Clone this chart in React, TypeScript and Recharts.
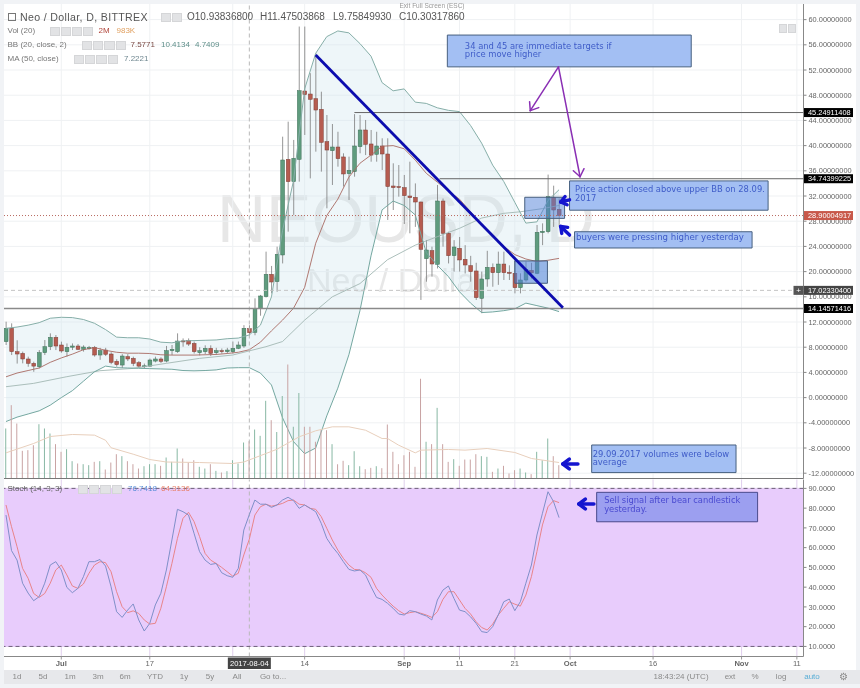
import React from "react";
import { ComposedChart, Bar, Line, Area, XAxis, YAxis, CartesianGrid, ReferenceLine, ReferenceArea } from "recharts";

// ---- candles: first entry is 10 days before 1 Jul 2017 (day 0 = 1 Jul)
const FIRST_DAY = -10;
const opens = [
  8.88, 11.0, 7.29, 7.02, 6.13, 5.44, 4.9, 7.13, 8.08, 9.56,
  8.35, 7.29, 8.0, 8.19, 7.66, 7.77, 7.98, 6.76, 7.55, 6.92,
  5.76, 5.17, 6.5, 6.23, 5.54, 4.95, 5.0, 5.8, 6.13, 5.8,
  7.45, 7.29, 9.0, 9.03, 8.6, 7.13, 7.29, 7.82, 7.13, 7.45,
  7.29, 7.29, 7.82, 8.19, 10.94, 10.35, 14.17, 16.03, 19.57, 18.41,
  22.64, 37.82, 34.28, 37.82, 48.67, 48.19, 47.45, 45.76, 40.63, 39.2,
  39.78, 38.2, 35.55, 35.87, 39.83, 42.48, 40.26, 38.62, 39.94, 38.67,
  33.59, 33.5, 33.33, 32.0, 31.79, 31.05, 22.06, 23.33, 21.16, 31.21,
  26.08, 22.53, 23.7, 21.95, 20.95, 20.1, 15.75, 18.83, 20.68, 19.83,
  21.2, 19.88, 19.73, 17.45, 18.67, 20.2, 19.73, 26.2, 26.34, 31.74,
  29.89,
];
const highs = [
  12.05, 11.79, 9.1, 7.3, 6.5, 5.7, 7.55, 9.14, 10.2, 9.93,
  8.88, 8.6, 8.6, 8.5, 8.3, 8.2, 8.2, 7.9, 7.9, 7.2,
  6.1, 6.9, 6.9, 6.5, 5.8, 5.4, 6.2, 6.5, 6.4, 8.2,
  8.35, 10.2, 9.4, 9.4, 8.9, 8.0, 8.3, 8.3, 7.9, 7.8,
  7.9, 8.9, 8.9, 11.5, 11.48, 15.76, 16.3, 23.17, 20.9, 23.96,
  41.42, 43.8, 40.9, 58.9, 58.9, 51.5, 54.65, 48.56, 44.86, 43.43,
  42.2, 38.78, 38.25, 45.0, 44.86, 44.07, 42.48, 42.2, 41.16, 41.16,
  37.19, 36.92, 35.34, 37.45, 34.0, 31.1, 25.02, 23.96, 33.75, 31.6,
  26.34, 25.0, 25.5, 24.2, 22.5, 21.4, 20.0, 23.3, 21.3, 23.17,
  23.17, 21.0, 22.1, 19.73, 21.6, 21.4, 27.4, 27.66, 35.4, 33.64,
  31.6,
];
const lows = [
  8.35, 6.76, 5.4, 5.44, 4.9, 4.1, 4.64, 6.76, 7.55, 7.55,
  7.13, 6.5, 7.55, 7.55, 7.3, 7.6, 6.5, 6.0, 6.6, 5.3,
  4.9, 4.7, 5.8, 5.0, 4.7, 4.64, 4.9, 5.6, 5.5, 5.6,
  6.76, 7.1, 8.08, 8.2, 7.0, 6.7, 6.9, 6.6, 6.8, 7.0,
  7.0, 7.0, 7.7, 7.9, 9.76, 9.9, 13.0, 15.9, 16.55, 16.8,
  21.3, 26.34, 29.0, 34.28, 41.69, 34.8, 39.04, 35.87, 30.05, 33.75,
  36.66, 33.5, 31.37, 35.07, 38.78, 38.5, 37.45, 37.45, 36.13, 28.2,
  29.78, 31.9, 27.56, 26.08, 27.1, 15.5, 18.4, 19.2, 20.5, 23.96,
  21.3, 20.0, 20.0, 19.7, 18.4, 15.5, 13.4, 17.6, 17.6, 17.9,
  18.67, 18.67, 16.55, 16.55, 18.4, 18.9, 19.6, 24.2, 26.08, 27.1,
  27.1,
];
const closes = [
  11.0, 7.29, 6.92, 6.13, 5.44, 5.0, 7.13, 8.08, 9.56, 8.19,
  7.4, 7.98, 8.19, 7.66, 8.03, 7.93, 6.76, 7.45, 6.87, 5.6,
  5.23, 6.6, 6.13, 5.44, 5.0, 5.05, 5.97, 6.13, 5.76, 7.45,
  7.66, 8.98, 8.9, 8.5, 7.29, 7.45, 7.82, 7.02, 7.45, 7.29,
  7.55, 7.82, 8.35, 11.0, 10.3, 14.17, 16.13, 19.57, 18.35, 22.74,
  37.72, 34.28, 37.98, 48.72, 48.09, 47.35, 45.65, 40.52, 39.3, 39.78,
  37.93, 35.5, 36.08, 39.94, 42.48, 40.2, 38.5, 39.94, 38.67, 33.5,
  33.33, 33.38, 32.06, 31.74, 31.05, 23.54, 23.43, 21.21, 31.21, 26.08,
  22.53, 23.91, 21.85, 21.05, 20.0, 15.87, 18.83, 20.68, 19.83, 21.2,
  19.83, 19.73, 17.45, 18.67, 20.36, 19.8, 26.24, 26.4, 31.9, 29.78,
  28.9,
];
const volumes = [
  6.67, 9.78, 7.33, 3.69, 3.78, 4.44, 7.24, 6.67, 6.0, 4.58,
  3.56, 3.91, 2.31, 2.0, 1.91, 1.78, 2.22, 2.31, 1.2, 2.13,
  3.24, 2.98, 2.31, 1.91, 1.33, 1.64, 1.91, 1.91, 1.69, 2.8,
  2.22, 4.0, 2.67, 2.13, 2.44, 1.56, 1.33, 1.91, 1.02, 0.8,
  0.98, 2.44, 2.0, 4.8, 4.98, 6.53, 5.69, 10.36, 7.78, 6.2,
  11.0, 15.2, 6.9, 11.4, 6.9, 6.9, 4.9, 6.44, 6.44, 4.58,
  1.9, 2.36, 1.78, 3.64, 1.64, 1.24, 1.42, 1.64, 1.38, 7.2,
  3.56, 1.91, 3.1, 3.56, 1.56, 13.3, 4.9, 4.58, 9.42, 4.58,
  2.22, 2.58, 1.69, 2.53, 2.53, 3.24, 2.98, 2.89, 0.89, 1.33,
  1.69, 0.67, 1.11, 1.33, 0.8, 0.58, 3.56, 2.44, 5.33, 2.98,
  1.78,
];
const stochK = [
  76.5, 58.5, 53.7, 42, 37, 33.15, 35.2, 42, 51.2, 52.9,
  48.7, 39.9, 37.2, 39.4, 45.3, 52.9, 52.9, 54, 50.7, 40.2,
  27.6, 24.7, 28.4, 31.5, 23.4, 17.8, 21.7, 31, 36.9, 48.7,
  63.9, 79.4, 78.2, 76.5, 67.3, 58, 53.7, 51.5, 52, 47.3,
  45.8, 45, 49.5, 68.9, 76.74, 84.1, 82, 82, 80.4, 81.6,
  84.1, 85.5, 83.8, 79.9, 81.6, 79.9, 78.2, 72.3, 64.7, 60.5,
  57.1, 52.9, 49, 48.2, 48.7, 46.2, 40.2, 34.8, 33.8, 31.8,
  29.3, 26.4, 25.9, 28.1, 27.6, 26.4, 25.4, 23.4, 33.5, 38.5,
  40.6, 34.3, 28.4, 27.6, 25, 21.7, 17.5, 17, 20, 25.9,
  32.6, 34, 28.1, 32.6, 42, 51.2, 66.4, 77.4, 88.3, 83.3,
  75.2,
];
const stochD = [
  81.6, 70.6, 60.5, 49.5, 44.5, 36.8, 34.8, 36.8, 42, 48.7,
  51.2, 46.2, 40.6, 39.4, 41.6, 47, 51.2, 52.9, 52.4, 47.8,
  37.7, 30.1, 27.1, 28, 26.7, 23.4, 21.3, 21.7, 29.3, 40.2,
  52, 64.7, 74.8, 77.9, 73.2, 65.6, 57.1, 53.7, 52, 50,
  47.8, 45.6, 47, 56.3, 64.31, 76.5, 80.7, 82, 81, 81.6,
  82.4, 83.8, 84.1, 82, 81.6, 79.9, 79.4, 75.7, 69.8, 63.9,
  58.8, 54.6, 51.2, 49, 48.7, 47.3, 45, 39.4, 36, 33.1,
  30.4, 28.1, 26.4, 27.1, 27.6, 26.8, 25.9, 24.7, 27.6, 33.8,
  37.7, 37.7, 33.5, 29.3, 26.4, 22.5, 19.6, 18.3, 21.3, 25.9,
  29.3, 32.6, 31.4, 30.4, 36, 45.3, 58, 71.5, 80.7, 83.8,
  82.8,
];

// ---- Bollinger band, read every second day
const bbDays = [-10,-8,-6,-4,-2,0,2,4,6,8,10,12,14,16,18,20,22,24,26,28,30,32,34,36,38,40,42,44,46,48,50,52,54,56,58,60,62,64,66,68,70,72,74,76,78,80,82,84,86,88,90];
const bbUpper = [11,11.2,11.5,11.9,12.6,12.75,12.7,12.4,11.8,10.8,9.6,9.5,9.5,9.3,8.8,8.7,9,9.05,9.1,9.15,9.35,9.45,9.95,11.5,16,26.5,34.5,49,54.65,57.3,58.2,57.9,56.2,54.2,50,48.7,49,46.9,46.7,46,45.6,45.4,43.2,40.4,36.9,34.3,31,27.7,27.9,31.3,33];
const bbBasis = [3.3,3.9,4.3,4.7,5.6,6.3,6.9,7.6,7.95,7.5,7.2,7.05,7.05,7,6.8,6.75,6.75,6.75,6.8,6.85,7,7.2,7.6,8.8,10.6,12.3,14.2,17.5,24.5,28.9,31.5,35,37.2,38.5,39.9,40,39.5,37.7,35.6,34.2,32.8,31.5,29.5,27.5,25.6,24,22.7,22,21.6,21.8,22.1];
const bbLower = [-3.8,-3.1,-2.6,-2.1,-1.2,0,1.1,2.6,4.1,5,4.75,4.7,4.65,4.6,4.55,4.5,4.3,4.25,4.3,4.4,4.7,4.75,4.75,3.9,2,-3.2,-7,-8.9,-8,-2.9,1.5,6.8,13.8,22.5,29.8,31.2,30.5,29,23,21,19.2,16.8,15,13.5,13.6,13.8,14.1,15,14.6,14.2,13.65];

// ---- moving averages, read at the days where the curve bends
const ma50Days = [-10,-5,1,7,13,19,25,31,37,40,44,49,54,59,64,68,72,76,80,83,87,90];
const ma50Values = [1.73,2.26,3.32,4.27,4.64,5.44,6.23,6.76,8.08,8.9,12.3,16,18.1,21.9,24.2,25.55,26.87,28.5,29.25,29.5,30,30.5];
const volMaDays = [-10,-5,-2,2,6,8,9,13,16,19,25,31,33,37,39,43,46,49,52,55,58,59,61,64,65,70,73,77,82,85,90];
const volMaValues = [3.42,4.67,5.6,5.87,5.78,5.1,4.1,3.24,2.53,2.2,2.13,2,2.2,3.33,3.9,5.56,6.36,6.89,6.89,6.44,5.33,5.33,4.44,3.42,3.78,3.87,3.78,4,3.47,2.67,2.13];

// ---- axes
const priceTicks = [-12,-8,-4,0,4,8,12,16,20,24,28,32,36,40,44,48,52,56,60];
const stochTicks = [10,20,30,40,50,60,70,80,90];
const dayTicks = [0,16,34,44,62,72,82,92,107,123,133];
const dayTickNames = ["Jul","17","2017-08-04","14","Sep","11","21","Oct","16","Nov","11"];
const gridDays = [0,16,31,44,62,72,82,92,107,123,133];
const boldTicks = ["Jul","Sep","Oct","Nov"];

// ---- horizontal levels
const levelHigh = 45.24911408;
const levelMid = 34.74399225;
const levelLow = 14.14571416;
const lastPrice = 28.90004917;
const crossPrice = 17.023304;
const crossDay = 34;

// ---- annotation texts
const noteTargets = ["34 and 45 are immediate targets if", "price move higher"];
const notePrice = ["Price action closed above upper BB on 28.09.", "2017"];
const noteBuyers = ["buyers were pressing higher yesterday"];
const noteVolume = ["29.09.2017 volumes were below", "average"];
const noteSell = ["Sell signal after bear candlestick", "yesterday."];

const toolbarLeft: [string, number][] = [["1d",17],["5d",43],["1m",70],["3m",98],["6m",125],["YTD",155],["1y",184],["5y",210],["All",237],["Go to...",273]];
const toolbarRight: [string, number][] = [["18:43:24 (UTC)",681],["ext",730],["%",755],["log",781]];

// ---- geometry of the panels
const W = 860, H = 688;
const DAY_DOMAIN: [number, number] = [-10.36, 134.2];
const PRICE_DOMAIN: [number, number] = [-12.84, 62.48];
const VOL_DOMAIN: [number, number] = [0, 63.27];
const STOCH_DOMAIN: [number, number] = [4.9, 94.5];
const PX_DAY = 5.53, PX_PRICE = 6.3, PX_STOCH = 1.975;
const mainMargin = { top: 4, left: 4, right: 0, bottom: 209.5 };
const mainOverlay = { ...mainMargin, right: 56.5 };
const stochMargin = { top: 479.5, left: 4, right: 0, bottom: 17.5 };
const stochOverlay = { top: 479.5, left: 4, right: 56.5, bottom: 31.5 };

const SANS = "'Liberation Sans', Arial, sans-serif";
const NOTE = "'DejaVu Sans', sans-serif";
const UP = "#5f9c7e", UP_EDGE = "#3d6e57", DOWN = "#b65c50", DOWN_EDGE = "#7d3f37";

const table = opens.map((o, i) => {
  const day = FIRST_DAY + i;
  const row: any = { day, open: o, high: highs[i], low: lows[i], close: closes[i], range: [lows[i], highs[i]], vol: volumes[i], k: stochK[i], d: stochD[i] };
  const b = bbDays.indexOf(day);
  if (b >= 0) { row.upper = bbUpper[b]; row.basis = bbBasis[b]; row.lower = bbLower[b]; row.band = [bbLower[b], bbUpper[b]]; }
  const m = ma50Days.indexOf(day);
  if (m >= 0) row.ma50 = ma50Values[m];
  const v = volMaDays.indexOf(day);
  if (v >= 0) row.volMa = volMaValues[v];
  return row;
});

const Candle = (p: any) => {
  const { x, y, width, height, payload } = p;
  if (!payload) return null;
  const up = payload.close >= payload.open;
  const h = Math.abs(height);
  const top = Math.min(y, y + height);
  const unit = h / (payload.high - payload.low);
  const yOf = (v: number) => top + (payload.high - v) * unit;
  const cx = x + width / 2;
  const bodyTop = yOf(Math.max(payload.open, payload.close));
  const bodyH = Math.max(1, Math.abs(payload.open - payload.close) * unit);
  return (
    <g>
      <line x1={cx} x2={cx} y1={top} y2={top + h} stroke="#7b7b7b" strokeWidth={0.8} />
      <rect x={x} y={bodyTop} width={width} height={bodyH} fill={up ? UP : DOWN} stroke={up ? UP_EDGE : DOWN_EDGE} strokeWidth={0.5} />
    </g>
  );
};

const VolumeBar = (p: any) => {
  const { x, y, width, height, payload } = p;
  if (!payload) return null;
  const up = payload.close >= payload.open;
  return <rect x={x} y={y} width={width} height={height} fill={up ? "#88b8a4" : "#c9a3a3"} />;
};

const arrow = (tail: [number, number], tip: [number, number], pxY: number, head: number) => {
  const dx = (tip[0] - tail[0]) * PX_DAY, dy = -(tip[1] - tail[1]) * pxY;
  const a = Math.atan2(dy, dx);
  const wing = (s: number) => ({
    x: tip[0] + (head * Math.cos(a + Math.PI + s)) / PX_DAY,
    y: tip[1] - (head * Math.sin(a + Math.PI + s)) / pxY,
  });
  const t = { x: tip[0], y: tip[1] };
  return [
    [{ x: tail[0], y: tail[1] }, t],
    [wing(0.65), t],
    [wing(-0.65), t],
  ];
};

const renderArrow = (key: string, segs: any[], stroke: string, width: number) =>
  segs.map((s, i) => <ReferenceLine key={key + i} segment={s} stroke={stroke} strokeWidth={width} strokeLinecap="round" ifOverflow="visible" />);

const noteLabel = (lines: string[], dx: number, firstY: number, color: string, size: number) => (props: any) => {
  const vb = props.viewBox || {};
  return (
    <text x={vb.x + dx} y={vb.y + firstY} fontFamily={NOTE} fontSize={size} fill={color}>
      {lines.map((l, i) => <tspan key={i} x={vb.x + dx} dy={i === 0 ? 0 : 8.2}>{l}</tspan>)}
    </text>
  );
};

const priceTag = (text: string, fill: string, plus?: boolean) => (props: any) => {
  const vb = props.viewBox || {};
  const right = vb.x + vb.width;
  return (
    <g>
      {plus && <rect x={right - 10} y={vb.y - 4.5} width={10} height={9} fill="#555" />}
      {plus && <text x={right - 5} y={vb.y + 3} textAnchor="middle" fontFamily={SANS} fontSize={8} fill="#fff">+</text>}
      <rect x={right + 0.5} y={vb.y - 4.5} width={49} height={9} fill={fill} />
      <text x={right + 4.5} y={vb.y + 2.6} fontFamily={SANS} fontSize={7.4} fill="#fff">{text}</text>
    </g>
  );
};

const DayTick = (p: any) => {
  const { x, y, index } = p;
  const name = dayTickNames[index];
  if (name === "2017-08-04") {
    return (
      <g>
        <rect x={x - 21.5} y={y + 1} width={43} height={11.5} fill="#444" />
        <text x={x} y={y + 9.6} textAnchor="middle" fontFamily={SANS} fontSize={7.6} fill="#fff">{name}</text>
      </g>
    );
  }
  return (
    <g>
      <line x1={x} x2={x} y1={y} y2={y + 3} stroke="#999" />
      <text x={x} y={y + 9.5} textAnchor="middle" fontFamily={SANS} fontSize={7.6} fontWeight={boldTicks.includes(name) ? 700 : 400} fill="#666">{name}</text>
    </g>
  );
};

const Txt = ({ x, y, size = 8, color = "#777", bold, anchor, children, spacing }: any) => (
  <div style={{ position: "absolute", left: x, top: y, transform: `translate(${anchor === "middle" ? "-50%" : "0"}, -50%)`, fontFamily: SANS, fontSize: size, color, fontWeight: bold ? 700 : 400, whiteSpace: "nowrap", lineHeight: 1, letterSpacing: spacing }}>
    {children}
  </div>
);

const Icons = ({ x, y, n, w = 10.2, h = 8.5 }: any) => (
  <>
    {Array.from({ length: n }).map((_, i) => (
      <div key={i} style={{ position: "absolute", left: x + i * (w + 1), top: y, width: w, height: h, background: "#e2e3e5", boxSizing: "border-box", border: "1px solid #d5d6d8" }} />
    ))}
  </>
);

const PriceChart = () => (
  <ComposedChart width={W} height={H} data={table} margin={mainMargin} style={{ position: "absolute", left: 0, top: 0 }}>
    <CartesianGrid horizontalValues={priceTicks} verticalValues={gridDays} stroke="#eff1f3" strokeWidth={1} />
    <XAxis dataKey="day" type="number" hide domain={DAY_DOMAIN} allowDataOverflow />
    <YAxis orientation="right" width={56.5} domain={PRICE_DOMAIN} allowDataOverflow ticks={priceTicks} interval={0}
      tickFormatter={(v: number) => v.toFixed(8)} tick={{ fontFamily: SANS, fontSize: 7.4, fill: "#666" }}
      tickSize={3} tickLine={{ stroke: "#888" }} axisLine={{ stroke: "#888" }} />
    <Area dataKey="band" connectNulls stroke="none" fill="#cfe6ee" fillOpacity={0.35} isAnimationActive={false} dot={false} activeDot={false} />
    <Bar dataKey="range" barSize={3.8} shape={Candle} isAnimationActive={false} />
    <Line dataKey="ma50" connectNulls stroke="#a3b8b3" strokeWidth={0.9} dot={false} isAnimationActive={false} />
    <Line dataKey="basis" connectNulls stroke="#a86a62" strokeWidth={0.9} dot={false} isAnimationActive={false} />
    <Line dataKey="upper" connectNulls stroke="#86aea8" strokeWidth={1} dot={false} isAnimationActive={false} />
    <Line dataKey="lower" connectNulls stroke="#74a7a0" strokeWidth={1} dot={false} isAnimationActive={false} />
  </ComposedChart>
);

const VolumeChart = () => (
  <ComposedChart width={W} height={H} data={table} margin={mainOverlay} style={{ position: "absolute", left: 0, top: 0 }}>
    <XAxis dataKey="day" type="number" hide domain={DAY_DOMAIN} allowDataOverflow />
    <YAxis hide domain={VOL_DOMAIN} allowDataOverflow />
    <Bar dataKey="vol" barSize={1} shape={VolumeBar} isAnimationActive={false} />
    <Line dataKey="volMa" connectNulls stroke="#e8cfbc" strokeWidth={1} dot={false} isAnimationActive={false} />
  </ComposedChart>
);

const boxBlue = { fill: "#a3bff3", stroke: "#47607f", strokeWidth: 1, fillOpacity: 1 };

const MainOverlay = () => (
  <ComposedChart width={W} height={H} data={[{ day: 0 }]} margin={mainOverlay} style={{ position: "absolute", left: 0, top: 0 }}>
    <XAxis dataKey="day" type="number" hide domain={DAY_DOMAIN} allowDataOverflow />
    <YAxis hide domain={PRICE_DOMAIN} allowDataOverflow />
    <ReferenceLine x={crossDay} stroke="#b8b8b8" strokeDasharray="4 3" ifOverflow="visible" />
    <ReferenceLine y={crossPrice} stroke="#c4c4c4" strokeDasharray="4 3" label={priceTag("17.02330400", "#444", true)} />
    <ReferenceLine y={lastPrice} stroke="#b86a60" strokeDasharray="1 2" label={priceTag("28.90004917", "#c8584a")} />
    <ReferenceLine segment={[{ x: 53, y: levelHigh }, { x: DAY_DOMAIN[1], y: levelHigh }]} stroke="#666" strokeWidth={1} />
    <ReferenceLine segment={[{ x: 68.4, y: levelMid }, { x: DAY_DOMAIN[1], y: levelMid }]} stroke="#666" strokeWidth={1} />
    <ReferenceLine y={levelLow} stroke="#8a8a8a" strokeWidth={1.5} label={priceTag("14.14571416", "#000")} />
    <ReferenceLine y={levelHigh} stroke="none" label={priceTag("45.24911408", "#000")} />
    <ReferenceLine y={levelMid} stroke="none" label={priceTag("34.74399225", "#000")} />
    <ReferenceLine y={PRICE_DOMAIN[0]} stroke="#777" strokeWidth={1} />
    <ReferenceArea x1={83.8} x2={91} y1={28.45} y2={31.8} fill="#4f80d8" fillOpacity={0.5} stroke="#47607f" strokeWidth={1} />
    <ReferenceArea x1={82} x2={87.9} y1={18.15} y2={21.7} fill="#4f80d8" fillOpacity={0.55} stroke="#47607f" strokeWidth={1} />
    <ReferenceLine segment={[{ x: 46, y: 54.4 }, { x: 90.7, y: 14.27 }]} stroke="#0c0cae" strokeWidth={2.8} />
    <ReferenceArea x1={69.8} x2={113.9} y1={52.5} y2={57.55} {...boxBlue} label={noteLabel(noteTargets, 17.5, 14, "#3f5cc8", 8.4)} />
    <ReferenceArea x1={91.9} x2={127.8} y1={29.75} y2={34.4} {...boxBlue} label={noteLabel(notePrice, 5.5, 11.5, "#3f5cc8", 8.35)} />
    <ReferenceArea x1={92.8} x2={124.9} y1={23.75} y2={26.33} {...boxBlue} label={noteLabel(noteBuyers, 1.5, 8, "#3f5cc8", 8.6)} />
    <ReferenceArea x1={95.9} x2={122} y1={-11.9} y2={-7.52} {...boxBlue} label={noteLabel(noteVolume, 1, 12, "#3f5cc8", 8.4)} />
    {renderArrow("pa", arrow([89.9, 52.5], [84.8, 45.55], PX_PRICE, 9), "#8a2fb4", 1.5)}
    {renderArrow("pb", arrow([89.9, 52.5], [93.8, 35.06], PX_PRICE, 9), "#8a2fb4", 1.5)}
    {renderArrow("a1", arrow([91.9, 31.4], [90.3, 31.05], PX_PRICE, 7), "#1515cf", 3.4)}
    {renderArrow("a2", arrow([91.9, 25.8], [90.3, 27.16], PX_PRICE, 7), "#1515cf", 3.4)}
    {renderArrow("a3", arrow([93.4, -10.54], [90.7, -10.54], PX_PRICE, 8), "#1515cf", 3.6)}
  </ComposedChart>
);

const StochChart = () => (
  <ComposedChart width={W} height={H} data={table} margin={stochMargin} style={{ position: "absolute", left: 0, top: 0 }}>
    <ReferenceArea y1={10} y2={90} fill="#e8ccfc" fillOpacity={1} stroke="none" />
    <CartesianGrid horizontalValues={stochTicks} verticalValues={gridDays} stroke="#d8c3e8" strokeWidth={0.8} />
    <XAxis dataKey="day" type="number" domain={DAY_DOMAIN} allowDataOverflow height={14} ticks={dayTicks} interval={0}
      tick={DayTick} tickLine={false} tickSize={0} tickMargin={0} axisLine={{ stroke: "#888" }} />
    <YAxis orientation="right" width={56.5} domain={STOCH_DOMAIN} allowDataOverflow ticks={stochTicks} interval={0}
      tickFormatter={(v: number) => v.toFixed(4)} tick={{ fontFamily: SANS, fontSize: 7.4, fill: "#666" }}
      tickSize={3} tickLine={{ stroke: "#888" }} axisLine={{ stroke: "#888" }} />
    <ReferenceLine x={crossDay} stroke="#b8b8b8" strokeDasharray="4 3" />
    <ReferenceLine y={90} stroke="#6d5f78" strokeDasharray="4 3" />
    <ReferenceLine y={10} stroke="#6d5f78" strokeDasharray="4 3" />
    <Line dataKey="d" stroke="#e8848a" strokeWidth={1} dot={false} isAnimationActive={false} />
    <Line dataKey="k" stroke="#7f8fc8" strokeWidth={1} dot={false} isAnimationActive={false} />
  </ComposedChart>
);

const StochOverlay = () => (
  <ComposedChart width={W} height={H} data={[{ day: 0 }]} margin={stochOverlay} style={{ position: "absolute", left: 0, top: 0 }}>
    <XAxis dataKey="day" type="number" hide domain={DAY_DOMAIN} allowDataOverflow />
    <YAxis hide domain={STOCH_DOMAIN} allowDataOverflow />
    <ReferenceArea x1={96.8} x2={125.9} y1={73.1} y2={88} fill="#9c9ff0" fillOpacity={1} stroke="#4a4a8c" strokeWidth={1} label={noteLabel(noteSell, 7.5, 11, "#4a4ad0", 8.35)} />
    {renderArrow("a4", arrow([96.3, 82.1], [93.6, 82.1], PX_STOCH, 8), "#1515cf", 3.6)}
  </ComposedChart>
);

const Chrome = () => (
  <>
    <div style={{ position: "absolute", left: 4, top: 670, width: 856, height: 14, background: "#e7e8eb" }} />
    {toolbarLeft.map(([t, x]) => <Txt key={t} x={x} y={677} color="#8a8a8a" anchor="middle">{t}</Txt>)}
    {toolbarRight.map(([t, x]) => <Txt key={t} x={x} y={677} color="#8a8a8a" anchor="middle">{t}</Txt>)}
    <Txt x={812} y={677} color="#5aaed6" anchor="middle">auto</Txt>
    <Txt x={843} y={677} color="#888" size={10} anchor="middle">⚙</Txt>
    <Txt x={432} y={6} size={6.5} color="#999" anchor="middle">Exit Full Screen (ESC)</Txt>

    <div style={{ position: "absolute", left: 8, top: 13, width: 8, height: 8, boxSizing: "border-box", border: "1px solid #777" }} />
    <Txt x={20} y={17} size={10.6} color="#555" spacing={0.35}>Neo / Dollar, D, BITTREX</Txt>
    <Icons x={161} y={13} n={2} h={9} />
    <Txt x={187} y={17} size={10} color="#555">O10.93836800</Txt>
    <Txt x={260} y={17} size={10} color="#555">H11.47503868</Txt>
    <Txt x={333} y={17} size={10} color="#555">L9.75849930</Txt>
    <Txt x={399} y={17} size={10} color="#555">C10.30317860</Txt>

    <Txt x={7.5} y={31} color="#777">Vol (20)</Txt>
    <Icons x={49.5} y={27} n={4} />
    <Txt x={98.5} y={31} color="#b0453a">2M</Txt>
    <Txt x={116.5} y={31} color="#e0a060">983K</Txt>

    <Txt x={7.5} y={45} color="#777">BB (20, close, 2)</Txt>
    <Icons x={82} y={41} n={4} />
    <Txt x={130.5} y={45} color="#7a4a45">7.5771</Txt>
    <Txt x={161} y={45} color="#5f8f8a">10.4134</Txt>
    <Txt x={195} y={45} color="#5f8f8a">4.7409</Txt>

    <Txt x={7.5} y={59} color="#777">MA (50, close)</Txt>
    <Icons x={74} y={55} n={4} />
    <Txt x={124} y={59} color="#6f8790">7.2221</Txt>

    <Txt x={7.5} y={489} color="#666">Stoch (14, 3, 3)</Txt>
    <Icons x={78} y={485} n={4} />
    <Txt x={128} y={489} color="#5a8fd8">76.7418</Txt>
    <Txt x={161} y={489} color="#e8806a">64.3136</Txt>

    <Icons x={779} y={24} n={2} w={8} />
  </>
);

export default function App() {
  return (
    <div style={{ position: "absolute", left: 0, top: 0, width: W, height: H, overflow: "hidden", background: "#f1f3f6", filter: "blur(0.3px)" }}>
      <div style={{ position: "absolute", left: 4, top: 4, width: 852, height: 666, background: "#fff" }} />
      <div style={{ position: "absolute", left: 217, top: 218, transform: "translateY(-50%)", fontFamily: SANS, fontSize: 68, color: "#e7e7e7", whiteSpace: "nowrap", lineHeight: 1 }}>NEOUSD, D</div>
      <div style={{ position: "absolute", left: 307, top: 280, transform: "translateY(-50%)", fontFamily: SANS, fontSize: 34, color: "#e7e7e7", whiteSpace: "nowrap", lineHeight: 1 }}>Neo / Dollar</div>
      <PriceChart />
      <VolumeChart />
      <MainOverlay />
      <StochChart />
      <StochOverlay />
      <Chrome />
    </div>
  );
}
